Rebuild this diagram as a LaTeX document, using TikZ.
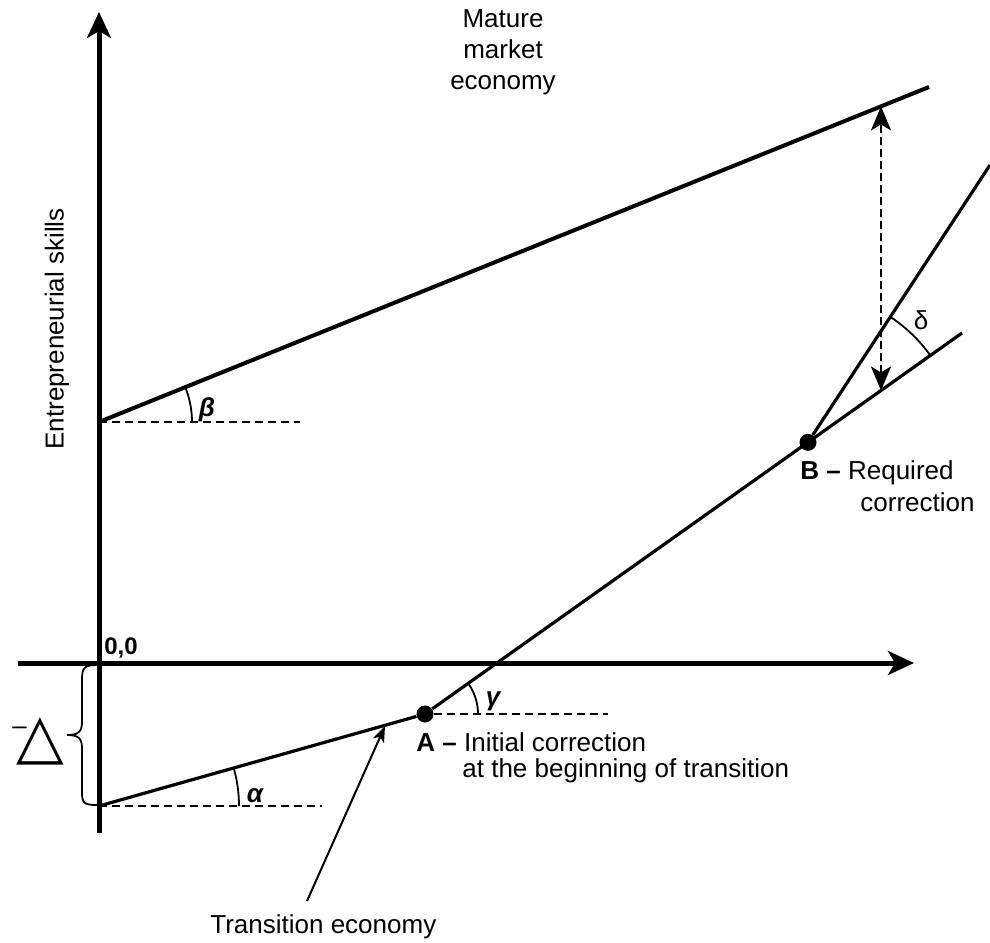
\documentclass[tikz,border=0pt]{standalone}
\usepackage{fontspec}
\setmainfont{Liberation Sans}
\newfontfamily\symfont{DejaVu Sans}
\usetikzlibrary{arrows.meta}
\begin{document}
\begin{tikzpicture}[x=0.5pt,y=0.5pt,
  axis/.style={line width=2.5pt,-{Stealth[length=13pt,width=12pt,inset=3.5pt]}},
  curve/.style={line width=1.6pt},
  thickcurve/.style={line width=2pt},
  guide/.style={line width=0.9pt,dash pattern=on 4pt off 2.5pt},
  angarc/.style={line width=0.9pt},
  dimarrow/.style={line width=1.2pt,dash pattern=on 4pt off 2pt,{Stealth[length=12pt,width=10pt,inset=3pt]}-{Stealth[length=12pt,width=10pt,inset=3pt]}},
  pointer/.style={line width=1pt,-{Stealth[length=8pt,width=6pt,inset=2pt]}},
  lbl/.style={font=\fontsize{13}{15.5}\selectfont,inner sep=0pt},
  greek/.style={font=\fontsize{13}{15}\selectfont\bfseries\itshape,inner sep=0pt},
  dot/.style={circle,fill,inner sep=0pt,minimum size=8.5pt}
]
\useasboundingbox (0,0) rectangle (990,-942);

% key coordinates (pixel units, y downward negated)
\coordinate (O) at (99,-663);
\coordinate (ybot) at (99,-833);
\coordinate (ytop) at (99,-12);
\coordinate (xl) at (18,-663);
\coordinate (xr) at (914,-663);
\coordinate (P) at (99,-422);
\coordinate (Q) at (929,-87);
\coordinate (Pd) at (300,-422);
\coordinate (L) at (99,-806);
\coordinate (Ld) at (322,-806);
\coordinate (Ad) at (608,-714);
\coordinate (E) at (962,-333);
\coordinate (S) at (990,-165);
\coordinate (D1) at (881,-106.4);
\coordinate (D2) at (881,-390.5);
\coordinate (Tp) at (307,-901);
\coordinate (Tt) at (385,-726);

\node[dot] (A) at (425,-714) {};
\node[dot] (B) at (808,-442.3) {};

% axes
\draw[axis] (ybot) -- (ytop);
\draw[axis] (xl) -- (xr);

% lines
\draw[thickcurve] (P) -- (Q);
\draw[curve] (L) -- (A);
\draw[curve] (A) -- (E);
\draw[curve] (B) -- (S);

% guides
\draw[guide] (P) -- (Pd);
\draw[guide] (L) -- (Ld);
\draw[guide] (A) -- (Ad);

% angle arcs
\draw[angarc] ([shift={(0:93)}]P) arc[start angle=0,end angle=22,radius=93];
\draw[angarc] ([shift={(0:140)}]L) arc[start angle=0,end angle=15.8,radius=140];
\draw[angarc] ([shift={(0:53)}]A.center) arc[start angle=0,end angle=35.4,radius=53];
\draw[angarc] ([shift={(35.4:150)}]B.center) arc[start angle=35.4,end angle=56.8,radius=150];

% dashed double arrow
\draw[dimarrow] (D2) -- (D1);

% brace
\draw[line width=0.9pt] (97,-665) .. controls (84,-665) and (82,-668) .. (82,-680) -- (82,-722)
  .. controls (82,-732) and (78,-735) .. (67,-735)
  .. controls (78,-735) and (82,-738) .. (82,-748) -- (82,-792)
  .. controls (82,-803) and (84,-805) .. (97,-805);

% labels
\node[greek] (beta) at (207,-410) {β};
\node[greek] (alpha) at (255,-796) {α};
\node[greek] (gamma) at (493,-701) {γ};
\node[lbl] (delta) at (921,-320) {δ};

\node[lbl,align=center] (mature) at (503,-52) {Mature\\market\\economy};
\node[lbl,rotate=90] (ylab) at (57,-329) {Entrepreneurial skills};
\node[lbl,font=\fontsize{12}{14}\selectfont\bfseries] (origin) at (121,-648) {0,0};
\node[lbl,anchor=west] (Atext1) at (416,-742) {\textbf{A –} Initial correction};
\node[lbl,anchor=west] (Atext2) at (462,-771) {at the beginning of transition};
\node[lbl,anchor=west] (Btext1) at (800,-473) {\textbf{B –} Required};
\node[lbl,anchor=west] (Btext2) at (860,-502) {correction};
\node[lbl,anchor=west] (trans) at (210,-927) {Transition economy};

\node[inner sep=0pt,anchor=base west] (mdelta) at (12,-757)
  {{\fontsize{13}{13}\selectfont\raisebox{11.5pt}{–}}\kern-5pt{\symfont\fontsize{31}{31}\selectfont △}};

% pointer
\draw[pointer] (Tp) -- (Tt);
\end{tikzpicture}
\end{document}
